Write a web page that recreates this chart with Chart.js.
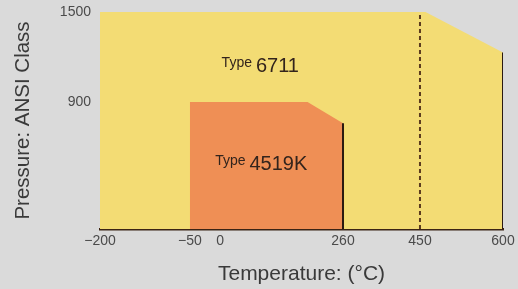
<!DOCTYPE html>
<html>
<head>
<meta charset="utf-8">
<script src="https://cdn.jsdelivr.net/npm/chart.js@4"></script>
<style>
  html, body { margin: 0; padding: 0; background: #dadada; }
  #wrap { width: 518px; height: 289px; }
</style>
</head>
<body>
<div id="wrap"><canvas id="chart"></canvas></div>
<script>
// ====== Data ======
const tempTicks = [-200, -50, 0, 260, 450, 600];
const pressureTicks = [900, 1500];

// Type 6711 operating envelope (top edge)
const type6711Temp = [-200, 460, 600];
const type6711Pressure = [1500, 1500, 1230];

// Type 4519K operating envelope (top edge)
const type4519Temp = [-50, 185, 260];
const type4519Pressure = [900, 900, 750];

const dashedTemp = 450;

// ====== Piecewise axis (the chart is not drawn to scale) ======
class PiecewiseScale extends Chart.LinearScale {
  _frac(v) {
    const k = this.options.knots;
    if (v <= k[0][0]) return k[0][1];
    for (let i = 1; i < k.length; i++) {
      if (v <= k[i][0]) {
        const [v0, f0] = k[i - 1], [v1, f1] = k[i];
        return f0 + (v - v0) / (v1 - v0) * (f1 - f0);
      }
    }
    return k[k.length - 1][1];
  }
  getPixelForValue(v) {
    return this.getPixelForDecimal(this._frac(v));
  }
  getValueForPixel(p) {
    const d = this.getDecimalForPixel(p);
    const k = this.options.knots;
    for (let i = 1; i < k.length; i++) {
      if (d <= k[i][1]) {
        const [v0, f0] = k[i - 1], [v1, f1] = k[i];
        return v0 + (d - f0) / (f1 - f0) * (v1 - v0);
      }
    }
    return k[k.length - 1][0];
  }
}
PiecewiseScale.id = "piecewise";
PiecewiseScale.defaults = Chart.LinearScale.defaults;
Chart.register(PiecewiseScale);

const toPoints = (xs, ys) => xs.map((x, i) => ({ x: x, y: ys[i] }));
const last = (a) => a[a.length - 1];

// "Type xxxx" labels
const typeLabels = {
  id: "typeLabels",
  afterDatasetsDraw(chart, args, opts) {
    const { ctx, scales } = chart;
    opts.items.forEach((it) => {
      const cx = scales.x.getPixelForValue(it.x);
      const by = scales.y.getPixelForValue(it.y);
      ctx.save();
      ctx.fillStyle = "#33241c";
      ctx.textBaseline = "alphabetic";
      ctx.font = "14px 'Liberation Sans', Arial, sans-serif";
      const w1 = ctx.measureText("Type").width;
      ctx.font = "20px 'Liberation Sans', Arial, sans-serif";
      const w2 = ctx.measureText(it.name).width;
      const x0 = cx - (w1 + 4 + w2) / 2;
      ctx.font = "14px 'Liberation Sans', Arial, sans-serif";
      ctx.fillText("Type", x0, by - 5);
      ctx.font = "20px 'Liberation Sans', Arial, sans-serif";
      ctx.fillText(it.name, x0 + w1 + 4, by);
      ctx.restore();
    });
  },
};

new Chart(document.getElementById("chart"), {
  type: "line",
  data: {
    datasets: [
      {
        data: [{ x: dashedTemp, y: 0 }, { x: dashedTemp, y: last(pressureTicks) }],
        borderColor: "#5a3a1e",
        borderWidth: 2,
        borderDash: [4, 3],
        pointRadius: 0,
        order: 0,
      },
      {
        data: [{ x: last(type6711Temp), y: last(type6711Pressure) }, { x: last(type6711Temp), y: 0 }],
        borderColor: "#2b1a10",
        borderWidth: 2,
        pointRadius: 0,
        order: 0,
      },
      {
        data: [{ x: last(type4519Temp), y: last(type4519Pressure) }, { x: last(type4519Temp), y: 0 }],
        borderColor: "#2b1a10",
        borderWidth: 2,
        pointRadius: 0,
        order: 0,
      },
      {
        label: "Type 4519K",
        data: toPoints(type4519Temp, type4519Pressure),
        backgroundColor: "#ef8f55",
        borderWidth: 0,
        fill: "origin",
        pointRadius: 0,
        tension: 0,
        order: 1,
      },
      {
        label: "Type 6711",
        data: toPoints(type6711Temp, type6711Pressure),
        backgroundColor: "#f3dc74",
        borderWidth: 0,
        fill: "origin",
        pointRadius: 0,
        tension: 0,
        order: 2,
      },
    ],
  },
  options: {
    responsive: true,
    maintainAspectRatio: false,
    animation: false,
    layout: { padding: { top: 12, right: 15, left: 0, bottom: 0 } },
    plugins: {
      legend: { display: false },
      tooltip: { enabled: false },
      typeLabels: {
        items: [
          { name: "6711", x: 85, y: 1100 },
          { name: "4519K", x: 87, y: 420 },
        ],
      },
    },
    scales: {
      x: {
        type: "piecewise",
        min: -200,
        max: 600,
        knots: [[-200, 0], [-50, 0.223], [0, 0.298], [260, 0.603], [450, 0.794], [600, 1]],
        afterBuildTicks: (s) => { s.ticks = tempTicks.map((v) => ({ value: v })); },
        afterFit: (s) => { s.height = 60; s.paddingLeft = 0; s.paddingRight = 0; },
        grid: { display: false, drawTicks: false },
        border: { display: true, color: "#3b2414", width: 2.5 },
        ticks: {
          autoSkip: false,
          maxRotation: 0,
          padding: 4,
          color: "#4a4a4a",
          font: { size: 14, family: "'Liberation Sans', Arial, sans-serif" },
          callback: (v) => (v < 0 ? "\u2212" + Math.abs(v) : String(v)),
        },
        title: {
          display: true,
          text: "Temperature: (°C)",
          color: "#3a3a3a",
          padding: { top: 0, bottom: 2 },
          font: { size: 21, family: "'Liberation Sans', Arial, sans-serif" },
        },
      },
      y: {
        type: "piecewise",
        min: 0,
        max: 1500,
        knots: [[0, 0], [900, 0.585], [1500, 1]],
        afterBuildTicks: (s) => { s.ticks = pressureTicks.map((v) => ({ value: v })); },
        afterFit: (s) => { s.width = 100; s.paddingTop = 0; s.paddingBottom = 0; },
        grid: { display: false, drawTicks: false },
        border: { display: false },
        ticks: {
          padding: 9,
          color: "#4a4a4a",
          font: { size: 14, family: "'Liberation Sans', Arial, sans-serif" },
          callback: (v) => String(v),
        },
        title: {
          display: true,
          text: "Pressure: ANSI Class",
          color: "#3a3a3a",
          padding: { top: 11, bottom: 0 },
          font: { size: 20.5, family: "'Liberation Sans', Arial, sans-serif" },
        },
      },
    },
  },
  plugins: [typeLabels],
});
</script>
</body>
</html>
